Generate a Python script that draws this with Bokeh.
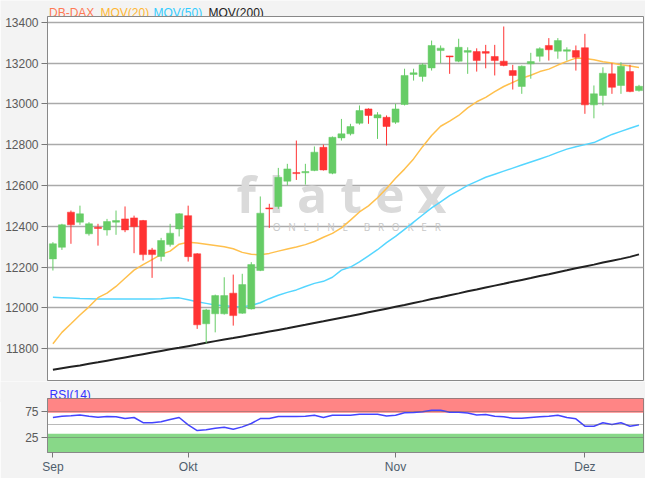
from bokeh.plotting import figure
from bokeh.layouts import column
from bokeh.models import Range1d, FixedTicker, Label, BoxAnnotation, ColumnDataSource
from bokeh.embed import file_html
from bokeh.resources import INLINE

# ---- data (trading-day index based, Sep 10 2019 .. Dec 10 2019) ----
opens = [12240, 12297, 12469, 12420, 12363, 12395, 12382, 12420, 12436, 12441,
         12428, 12284, 12252, 12310, 12387, 12452, 12265, 11922, 11971, 11971,
         12072, 11974, 11995, 12183, 12490, 12497, 12621, 12663, 12662, 12673,
         12787, 12660, 12833, 12853, 12905, 12975, 12931, 12934, 12910, 12997,
         13144, 13134, 13176, 13261, 13235, 13209, 13253, 13256, 13256, 13232,
         13209, 13163, 13085, 13196, 13233, 13286, 13258, 13258, 13261, 13275,
         12995, 13041, 13147, 13090, 13158, 13065]
highs = [12322, 12412, 12477, 12501, 12420, 12412, 12436, 12477, 12497, 12452,
         12431, 12294, 12343, 12412, 12464, 12501, 12268, 11995, 12065, 12150,
         12163, 12167, 12224, 12546, 12510, 12686, 12706, 12820, 12706, 12791,
         12800, 12840, 12926, 12902, 12992, 12978, 12959, 12943, 13000, 13172,
         13172, 13199, 13310, 13286, 13235, 13319, 13277, 13272, 13289, 13289,
         13379, 13191, 13188, 13250, 13277, 13322, 13322, 13277, 13286, 13343,
         13090, 13179, 13199, 13204, 13191, 13093]
lows = [12183, 12284, 12314, 12407, 12354, 12305, 12354, 12358, 12371, 12268,
        12232, 12147, 12228, 12300, 12350, 12227, 11897, 11826, 11880, 11967,
        11913, 11971, 11992, 12180, 12392, 12485, 12600, 12627, 12604, 12670,
        12673, 12655, 12820, 12845, 12898, 12902, 12828, 12796, 12902, 12992,
        13114, 13109, 13163, 13199, 13147, 13204, 13147, 13158, 13174, 13139,
        13184, 13070, 13049, 13123, 13207, 13212, 13221, 13212, 13163, 12951,
        12929, 12992, 13049, 13049, 13057, 13060]
closes = [12314, 12407, 12407, 12461, 12412, 12389, 12423, 12428, 12382, 12398,
          12261, 12261, 12330, 12366, 12461, 12251, 11917, 11990, 12060, 12060,
          11962, 12114, 12212, 12464, 12485, 12640, 12681, 12658, 12668, 12763,
          12676, 12836, 12853, 12889, 12967, 12943, 12946, 12889, 12975, 13139,
          13152, 13191, 13286, 13273, 13230, 13277, 13261, 13212, 13248, 13212,
          13188, 13139, 13184, 13207, 13270, 13265, 13310, 13265, 13228, 12995,
          13049, 13150, 13081, 13184, 13060, 13086]

mov20 = [11824, 11880, 11922, 11965, 12005, 12050, 12072, 12105, 12145, 12185,
         12212, 12236, 12262, 12278, 12312, 12322, 12318, 12312, 12306, 12300,
         12290, 12272, 12263, 12260, 12267, 12278, 12288, 12298, 12310, 12325,
         12346, 12365, 12392, 12430, 12470, 12500, 12540, 12585, 12635, 12680,
         12730, 12790, 12845, 12890, 12915, 12943, 12980, 13010, 13032, 13060,
         13085, 13105, 13125, 13140, 13158, 13170, 13190, 13208, 13224, 13222,
         13216, 13206, 13200, 13192, 13185, 13178]
mov50 = [12052, 12050, 12048, 12046, 12045, 12044, 12044, 12044, 12044, 12044,
         12044, 12044, 12045, 12048, 12049, 12040, 12030, 12022, 12014, 12010,
         12007, 12006, 12012, 12025, 12045, 12062, 12076, 12088, 12105, 12120,
         12130, 12150, 12185, 12200, 12225, 12255, 12285, 12320, 12350, 12385,
         12420, 12455, 12490, 12520, 12550, 12575, 12600, 12620, 12640, 12655,
         12670, 12685, 12700, 12715, 12730, 12745, 12762, 12778, 12790, 12800,
         12810, 12830, 12850, 12865, 12880, 12895]
mov200 = [11697, 11704, 11711, 11718, 11726, 11733, 11741, 11749, 11757, 11765,
          11773, 11781, 11789, 11797, 11804, 11812, 11820, 11829, 11837, 11845,
          11852, 11860, 11868, 11876, 11884, 11892, 11900, 11909, 11917, 11926,
          11934, 11943, 11952, 11960, 11969, 11978, 11987, 11996, 12005, 12014,
          12024, 12033, 12043, 12052, 12062, 12071, 12081, 12090, 12100, 12109,
          12118, 12128, 12137, 12146, 12156, 12165, 12175, 12184, 12194, 12203,
          12212, 12222, 12231, 12240, 12250, 12262]
rsi14 = [64, 66.5, 67.5, 69, 66.6, 64.5, 66, 65.5, 62, 64,
         54, 53.8, 56, 60, 64, 50, 39, 40.5, 43.5, 45.4,
         41.5, 46, 52.5, 62, 62, 66, 66, 66, 66.5, 68.5,
         64, 68.5, 68.5, 68.5, 70.4, 70.4, 70.4, 67, 68.5, 73,
         73.5, 75, 78, 78, 74.3, 74.3, 72.5, 69, 69.8, 66.3,
         65.5, 62.5, 62.5, 64, 65.4, 66.6, 68.5, 64, 61.5, 47.3,
         47.3, 53.8, 50.6, 53.8, 47.3, 50]

month_ticks = [0, 15, 38, 59]
month_labels = ["Sep", "Okt", "Nov", "Dez"]
price_ticks = [11800, 12000, 12200, 12400, 12600, 12800, 13000, 13200, 13400]
rsi_ticks = [25, 75]
rsi_grid = [25, 50, 75]
header_texts = ["DB-DAX", "MOV(20)", "MOV(50)", "MOV(200)"]

# ---- styles ----
FONT = "Liberation Sans"
BG = "#f3f3f3"
UP = "#66cc66"
DOWN = "#ff3333"
NB = "\u00a0"

idx = list(range(len(opens)))
colors = [UP if c >= o else DOWN for o, c in zip(opens, closes)]
src = ColumnDataSource(dict(
    x=idx, open=opens, high=highs, low=lows, close=closes,
    top=[max(o, c) for o, c in zip(opens, closes)],
    bottom=[min(o, c) for o, c in zip(opens, closes)],
    color=colors, m20=mov20, m50=mov50, m200=mov200, rsi=rsi14))

xr = Range1d(-0.6, 65.5)


def strip(h):
    f = figure(width=645, height=h, x_range=Range1d(0, 645), y_range=Range1d(h, 0),
               output_backend="svg", toolbar_location=None, title=None,
               x_axis_location=None, y_axis_location=None, min_border=0,
               frame_align=False,
               background_fill_color=BG, border_fill_color=BG)
    f.outline_line_color = None
    f.grid.visible = False
    return f


# header with legend texts (strip is overlapped 4px by the price panel below)
h1 = strip(20)
for xo, txt, col in zip([48.5, 100, 153, 208], header_texts,
                        ["#ff7a55", "#ffb733", "#33ccff", "#222222"]):
    h1.add_layout(Label(x=xo, y=12.3, text=txt, text_font=FONT, text_font_size="12px",
                        text_color=col, text_baseline="alphabetic"))

p1 = figure(width=645, height=365, x_range=xr, y_range=Range1d(11644, 13428),
            output_backend="svg", toolbar_location=None, title=None,
            x_axis_location=None, frame_align=False, margin=(-4, 0, 0, 0),
            min_border_left=47, min_border_right=2, min_border_top=0, min_border_bottom=1,
            background_fill_color="white", border_fill_color=BG)
p1.outline_line_color = "#888888"
p1.xgrid.visible = False
p1.ygrid.ticker = FixedTicker(ticks=price_ticks)
p1.ygrid.grid_line_color = "#aaaaaa"
p1.ygrid.grid_line_width = 1.5
p1.yaxis.ticker = FixedTicker(ticks=price_ticks)
p1.yaxis.major_label_text_font = FONT
p1.yaxis.major_label_text_font_size = "12px"
p1.yaxis.major_label_text_color = "#5a5a5a"
p1.yaxis.major_tick_out = 6
p1.yaxis.major_tick_in = 0
p1.yaxis.minor_tick_line_color = None
p1.yaxis.major_label_standoff = 3
p1.yaxis.axis_line_color = "#888888"
p1.yaxis.major_tick_line_color = "#777777"

# watermark
p1.add_layout(Label(x=32, y=12560, text="f l a t e x", text_align="center",
                    text_baseline="middle", text_font="Open Sans", text_font_style="bold",
                    text_font_size="50px", text_color="#dadada", level="underlay"))
sp = NB + NB + " "
p1.add_layout(Label(x=33.7, y=12398,
                    text=sp.join("ONLINE") + NB + NB + NB + sp + sp.join("BROKER"),
                    text_align="center", text_baseline="middle", text_font="Open Sans",
                    text_font_size="10px", text_color="#c8c8c8", level="underlay"))

p1.line("x", "m200", source=src, line_color="#222222", line_width=2)
p1.line("x", "m50", source=src, line_color="#55d6ff", line_width=1.5)
p1.line("x", "m20", source=src, line_color="#ffc04d", line_width=1.5)
p1.segment("x", "high", "x", "low", source=src, line_color="color", line_width=1)
p1.vbar(x="x", top="top", bottom="bottom", width=0.78, source=src,
        fill_color="color", line_color="color", line_width=0.5)

# RSI header (overlapped 4px by the RSI panel below)
h2 = strip(21)
h2.add_layout(Label(x=49, y=13.7, text="RSI(14)", text_font=FONT, text_font_size="12px",
                    text_color="#3333ff", text_baseline="alphabetic"))

# ---- RSI panel ----
p2 = figure(width=645, height=80, x_range=xr, y_range=Range1d(-3.3, 100.6),
            output_backend="svg", toolbar_location=None, title=None, frame_align=False,
            margin=(-4, 0, 0, 0),
            min_border_left=47, min_border_right=2, min_border_top=0, min_border_bottom=26,
            background_fill_color="white", border_fill_color=BG)
p2.outline_line_color = "#777777"
p2.add_layout(BoxAnnotation(bottom=73, fill_color="#ff8585", fill_alpha=1,
                            line_color=None, level="underlay"))
p2.add_layout(BoxAnnotation(top=33, fill_color="#88d888", fill_alpha=1,
                            line_color=None, level="underlay"))
p2.xgrid.visible = False
p2.ygrid.ticker = FixedTicker(ticks=rsi_grid)
p2.ygrid.grid_line_color = "#666666"
p2.ygrid.grid_line_alpha = 0.45
p2.ygrid.level = "glyph"
p2.line("x", "rsi", source=src, line_color="#4444ff", line_width=1.5)

p2.yaxis.ticker = FixedTicker(ticks=rsi_ticks)
p2.xaxis.ticker = FixedTicker(ticks=month_ticks)
p2.xaxis.major_label_overrides = {t: l for t, l in zip(month_ticks, month_labels)}
for ax in (p2.xaxis, p2.yaxis):
    ax.major_label_text_font = FONT
    ax.major_label_text_font_size = "12px"
    ax.major_tick_in = 0
    ax.minor_tick_line_color = None
    ax.axis_line_color = "#888888"
    ax.major_tick_line_color = "#777777"
p2.yaxis.major_label_text_color = "#5a5a5a"
p2.yaxis.major_tick_out = 6
p2.yaxis.major_label_standoff = 3
p2.xaxis.major_label_text_color = "#4e5d6c"
p2.xaxis.major_tick_out = 5
p2.xaxis.major_label_standoff = 2
p2.xaxis.major_label_text_align = "left"

layout = column(h1, p1, h2, p2, spacing=0)
open("out.html", "w").write(file_html(layout, INLINE))
